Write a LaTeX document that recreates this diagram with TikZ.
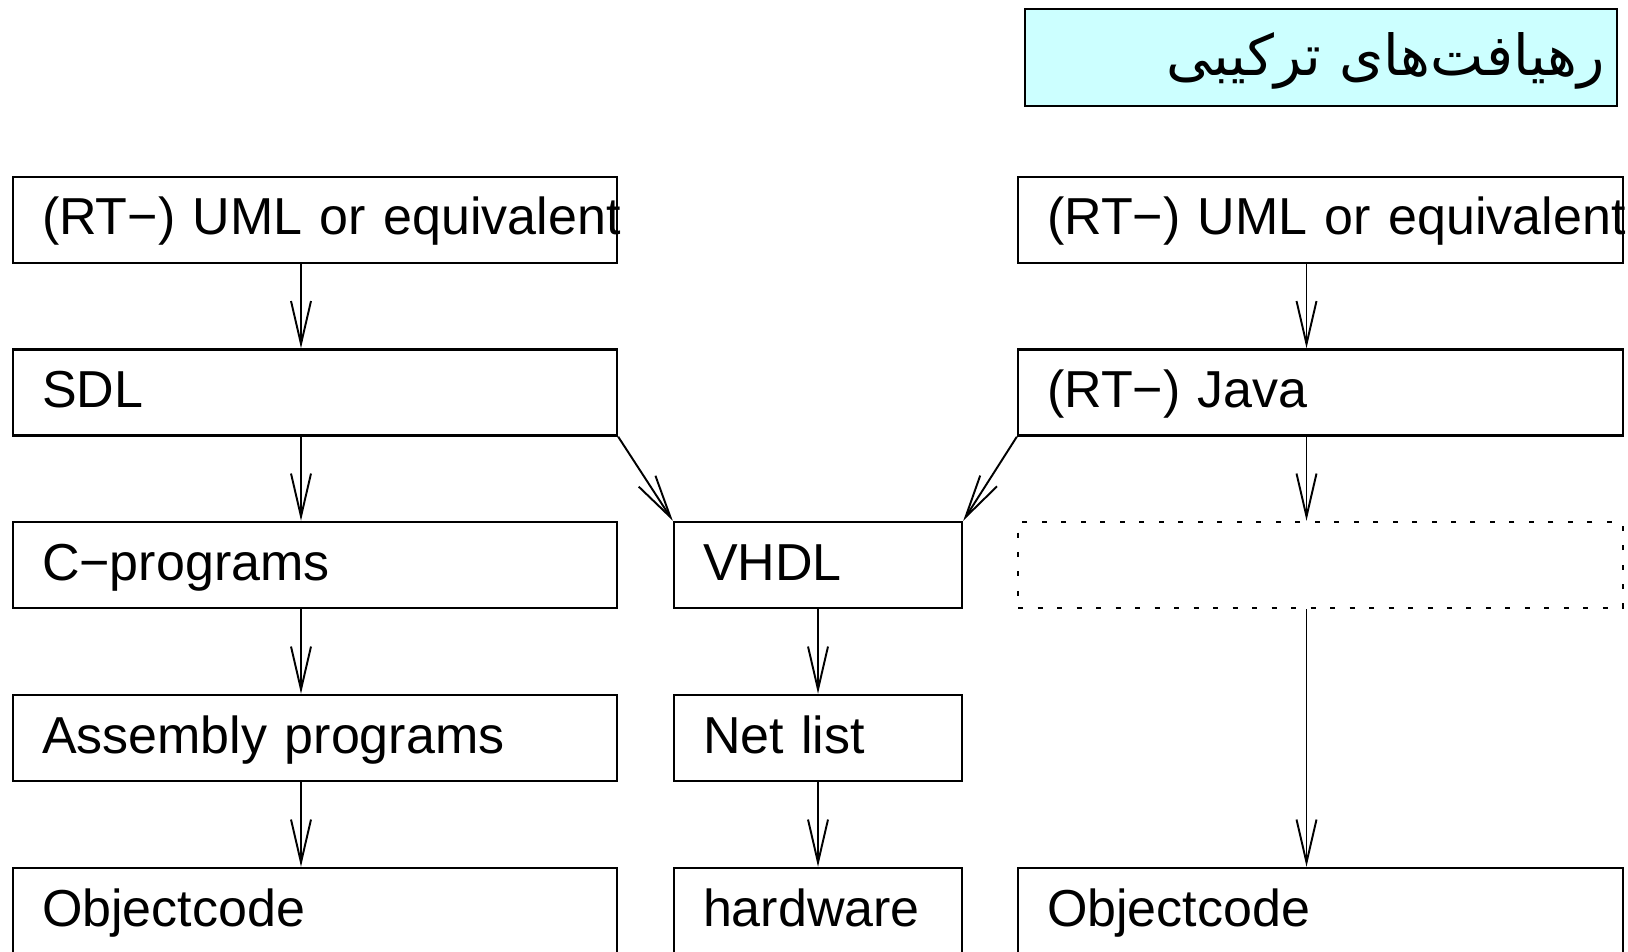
\documentclass[tikz,border=0pt]{standalone}
\usepackage{fontspec}
\setmainfont{Liberation Sans}
\newfontfamily\fafont[Script=Arabic]{DejaVu Sans}
\TeXXeTstate=1
\usetikzlibrary{arrows.meta}
\definecolor{titlecyan}{RGB}{204,255,255}
\begin{document}
\begin{tikzpicture}[x=0.02cm,y=-0.02cm,
  box/.style={draw, line width=1.4pt, minimum height=1.72cm, inner ysep=0pt, inner xsep=0.58cm,
    text height=0.9cm, text depth=0.3cm, align=left, font=\fontsize{29.6}{35}\selectfont},
  colL/.style={box, minimum width=12.08cm, text width=10.92cm},
  colM/.style={box, minimum width=5.76cm, text width=4.6cm},
  colR/.style={box, minimum width=12.1cm, text width=10.94cm},
  dotbox/.style={colR, solid, dash pattern=on 0.1cm off 0.29cm},
  arr/.style={-{Straight Barb[length=0.86cm,width=0.4cm]}, line width=1.1pt}
]
\useasboundingbox (0,0) rectangle (1628,952);

% title
\node[draw, fill=titlecyan, line width=1.4pt, minimum width=11.84cm, minimum height=1.94cm] (title) at (1321,57.5) {};
\node[anchor=base east, inner sep=0pt, font=\fontsize{32.2}{38}\selectfont] (titletext) at (1605,76)
  {\fafont\beginR رهیافت^^^^200cهای ترکیبی\endR};

% left column
\node[colL] (L1) at (315,220) {\mbox{(RT−) UML or equivalent}};
\node[colL] (L2) at (315,392.5) {SDL};
\node[colL] (L3) at (315,565) {C−programs};
\node[colL] (L4) at (315,738) {Assembly programs};
\node[colL] (L5) at (315,911) {Objectcode};

% middle column
\node[colM] (M3) at (818,565) {VHDL};
\node[colM] (M4) at (818,738) {Net list};
\node[colM] (M5) at (818,911) {hardware};

% right column
\node[colR] (R1) at (1320.5,220) {\mbox{(RT−) UML or equivalent}};
\node[colR] (R2) at (1320.5,392.5) {(RT−) Java};
\node[dotbox] (R3) at (1320.5,565) {};
\node[colR] (R5) at (1320.5,911) {Objectcode};

% connectors
\draw[arr] ([xshift=-0.28cm]L1.south) -- ([xshift=-0.28cm]L2.north);
\draw[arr] ([xshift=-0.28cm]L2.south) -- ([xshift=-0.28cm]L3.north);
\draw[arr] ([xshift=-0.28cm]L3.south) -- ([xshift=-0.28cm]L4.north);
\draw[arr] ([xshift=-0.28cm]L4.south) -- ([xshift=-0.28cm]L5.north);

\draw[arr] (L2.south east) -- (M3.north west);
\draw[arr] (R2.south west) -- (M3.north east);
\draw[arr] (M3.south) -- (M4.north);
\draw[arr] (M4.south) -- (M5.north);

\draw[arr] ([xshift=-0.28cm]R1.south) -- ([xshift=-0.28cm]R2.north);
\draw[arr] ([xshift=-0.28cm]R2.south) -- ([xshift=-0.28cm]R3.north);
\draw[arr] ([xshift=-0.28cm]R3.south) -- ([xshift=-0.28cm]R5.north);
\end{tikzpicture}
\end{document}
